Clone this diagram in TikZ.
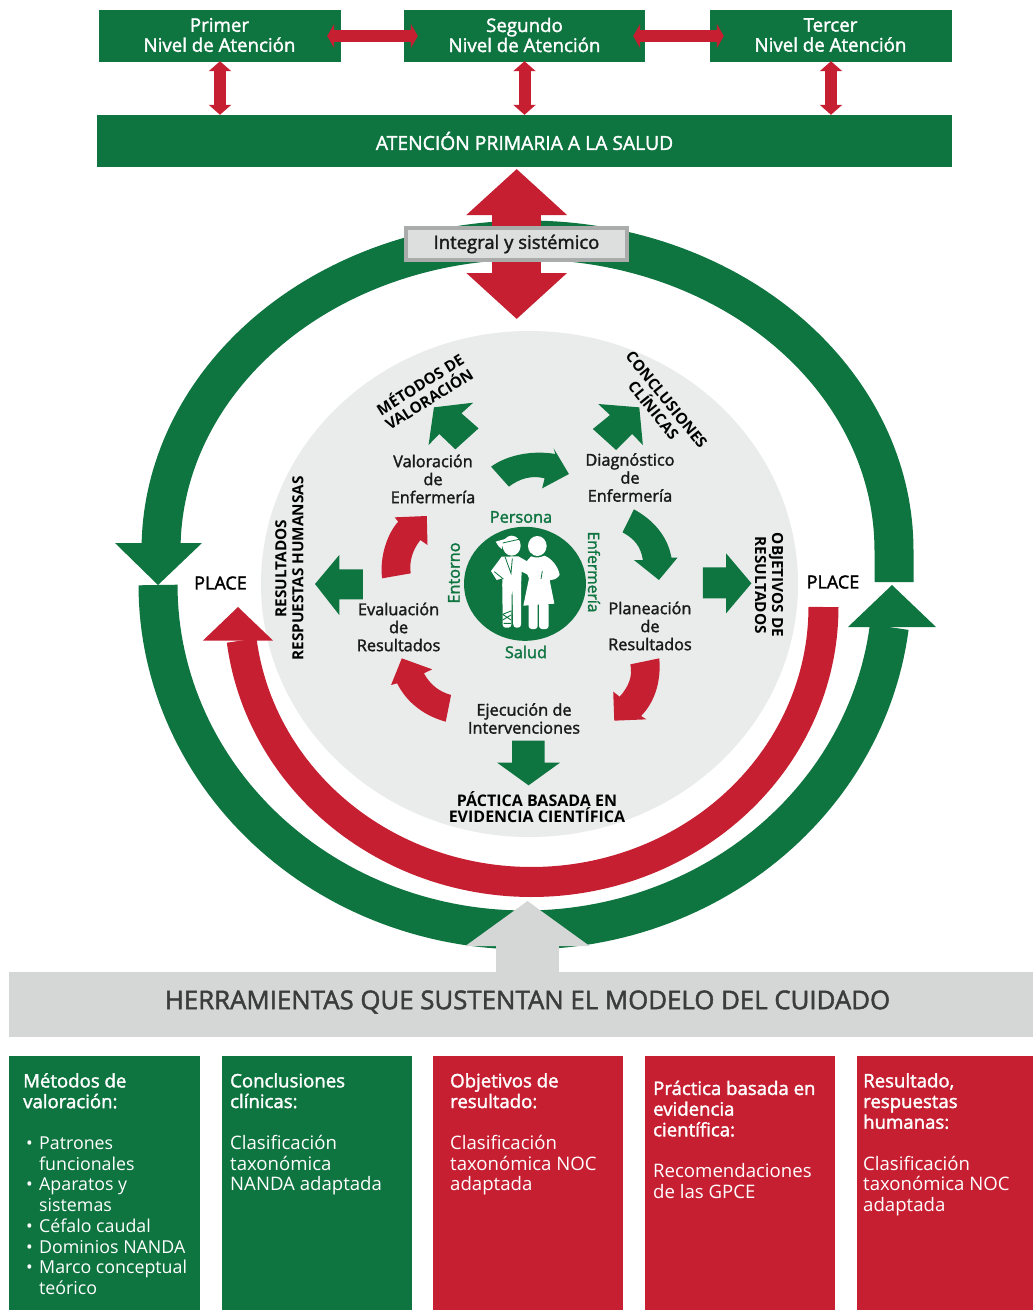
\documentclass[tikz,border=0pt]{standalone}
\usepackage{fontspec}
\usetikzlibrary{arrows.meta,calc}
\setmainfont{Open Sans}
\newfontfamily\medfont[FakeBold=1.8]{Open Sans}
\definecolor{vgreen}{HTML}{0E7440}
\definecolor{vred}{HTML}{C71F32}
\definecolor{vgrey}{HTML}{D5D6D6}
\definecolor{vdisc}{HTML}{EAEBEB}
\definecolor{vink}{HTML}{1A1A1A}
\tikzset{
  greenbox/.style={fill=vgreen,draw=none,text=white,inner sep=0pt,align=center,font=\medfont\fontsize{18.7}{20}\selectfont},
  colbox/.style={draw=none,minimum width=#1,inner sep=0pt,anchor=north west,minimum height=254pt},
  hdbl/.style={draw=vred,line width=12pt,{Triangle[width=24pt,length=7pt]}-{Triangle[width=24pt,length=7pt]}},
  vdbl/.style={draw=vred,line width=12pt,{Triangle[width=22pt,length=10pt]}-{Triangle[width=22pt,length=10pt]}},
  bigtip/.style={draw=vred,line width=49pt,-{Triangle[width=98pt,length=46pt]}},
  greytip/.style={draw=vgrey,line width=63pt,-{Triangle[width=122pt,length=45pt]}},
  coltext/.style={text=white,inner sep=0pt,anchor=north west,align=left,font=\fontsize{18.6}{20.7}\selectfont},
  step label/.style={text=vink,inner sep=0pt,align=center,font=\medfont\fontsize{16.3}{18}\selectfont},
  cap label/.style={text=black,inner sep=0pt,align=center,font=\bfseries\fontsize{15.3}{17}\selectfont},
  core label/.style={text=vgreen,inner sep=0pt,font=\medfont\fontsize{16.3}{17}\selectfont},
  zoomed/.style={shift={(250,330)},x=0.35714pt,y=-0.33333pt},
  figured/.style={shift={(455,515)},x=0.33333pt,y=-0.33333pt},
}
\newcommand{\bul}{\makebox[16pt][l]{\hspace{3pt}•}}
\newcommand{\ind}{\hspace*{16pt}}
\newcommand{\hd}[1]{{\medfont #1}}
\newcommand{\lst}{\fontsize{17.8}{20.7}\selectfont}
\begin{document}
\begin{tikzpicture}[x=1pt,y=-1pt]
\useasboundingbox (0,0) rectangle (1033,1310);
\fill[white] (0,0) rectangle (1033,1310);

% top boxes
\node[greenbox,minimum width=242pt,minimum height=52pt] (n1) at (220,36) {};
\node[greenbox,minimum width=241pt,minimum height=52pt] (n2) at (524.5,36) {};
\node[greenbox,minimum width=242pt,minimum height=52pt] (n3) at (831,36) {};
\node[greenbox,minimum width=855pt,minimum height=52pt,font=\medfont\fontsize{19.3}{20}\selectfont] (aps) at (524.5,141) {ATENCIÓN PRIMARIA A LA SALUD};
\draw[hdbl] ([xshift=-14pt]n1.east) -- ([xshift=14pt]n2.west);
\draw[hdbl] ([xshift=-12pt]n2.east) -- ([xshift=14pt]n3.west);
\node[greenbox,fill=none] (n1t) at (219.5,35) {Primer\\Nivel de Atención};
\node[greenbox,fill=none] (n2t) at (524.5,35) {Segundo\\Nivel de Atención};
\node[greenbox,fill=none] (n3t) at (830.5,35) {Tercer\\Nivel de Atención};
\draw[vdbl] ([yshift=1pt]n1.south) -- (n1.south |- aps.north);
\draw[vdbl] ([yshift=1pt]n2.south) -- (n2.south |- aps.north);
\draw[vdbl] ([yshift=1pt]n3.south) -- (n3.south |- aps.north);

% central disc
\fill[vdisc] (529.5,584) ellipse [x radius=268.5,y radius=253];

% green ring
\draw[vgreen,line width=39pt] plot[domain=180:360,samples=140] ({527.5+366.5*cos(\x)},{550+310*sin(\x)}) -- (894,582);
\fill[vgreen] (115,543) -- (202,543) -- (158,585) -- cycle;
\draw[vgreen,line width=39pt] plot[domain=7:180,samples=120] ({525+367*cos(\x)},{585+345*sin(\x)});
\fill[vgreen] (848,627) -- (936,627) -- (892,585) -- cycle;
% red ring
\draw[vred,line width=30pt] plot[domain=0:173,samples=120] ({531.5+292*cos(\x)},{607+275*sin(\x)});
\fill[vred] (203,640.5) -- (273,640.5) -- (238,607) -- cycle;

% integral box and its arrow
\coordinate (toptip) at (516.7,169);
\coordinate (bottip) at (516.7,319);
\coordinate (midpt) at (516.7,244);
\draw[bigtip] (midpt) -- (toptip);
\draw[bigtip] (midpt) -- (bottip);
\node[draw=vgrey!80!black,line width=4pt,fill=vgrey!80!white,text=vink,inner sep=0pt,minimum width=221pt,minimum height=32pt,font=\medfont\fontsize{18.5}{20}\selectfont] (integ) at (516.5,244) {Integral y sistémico};

% band and grey arrow
\node[fill=vgrey,inner sep=0pt,minimum width=1024pt,minimum height=65pt] (band) at (521,1004.5) {};
\coordinate (greytop) at (527.5,901);
\coordinate (greybase) at (527.5,973);
\draw[greytip] (greybase) -- (greytop);
\node[text=vink!85!white,inner sep=0pt,font=\medfont\fontsize{25.8}{28}\selectfont] (bandtext) at (527.5,1002) {HERRAMIENTAS QUE SUSTENTAN EL MODELO DEL CUIDADO};

% curved and block arrows inside the disc
\begin{scope}[zoomed]
\fill[vgreen] (515,232) -- (625,218) -- (592,250) -- (640,295) -- (575,358) -- (530,312) -- (500,345) -- cycle;
\fill[vgreen] (1090,232) -- (975,222) -- (1008,255) -- (960,297) -- (1025,360) -- (1070,312) -- (1100,345) -- cycle;
\fill[vgreen] (675,410) .. controls (720,375) and (790,360) .. (855,372) -- (850,355) -- (893,432) -- (818,475) -- (825,445) .. controls (790,435) and (755,445) .. (725,470) -- cycle;
\fill[vgreen] (1075,538) .. controls (1130,570) and (1170,620) .. (1180,683) -- (1197,683) -- (1145,750) -- (1075,690) -- (1100,690) .. controls (1095,650) and (1075,625) .. (1043,607) -- cycle;
\fill[vred] (1146,985) .. controls (1152,1060) and (1130,1120) .. (1095,1158) -- (1110,1168) -- (1020,1172) -- (1017,1085) -- (1035,1100) .. controls (1060,1070) and (1072,1040) .. (1065,1003) -- cycle;
\fill[vred] (548,1175) .. controls (480,1155) and (435,1110) .. (412,1060) -- (395,1065) -- (425,985) -- (510,1018) -- (487,1030) .. controls (505,1065) and (530,1085) .. (563,1095) -- cycle;
\fill[vred] (370,745) .. controls (362,680) and (385,610) .. (415,575) -- (405,562) -- (495,558) -- (497,645) -- (477,630) .. controls (455,660) and (445,695) .. (450,730) -- cycle;
\fill[vgreen] (182,762) -- (250,675) -- (250,718) -- (316,718) -- (316,808) -- (250,808) -- (250,855) -- cycle;
\fill[vgreen] (1268,712) -- (1333,712) -- (1333,670) -- (1404,760) -- (1333,850) -- (1333,805) -- (1268,805) -- cycle;
\fill[vgreen] (734,1232) -- (825,1232) -- (825,1298) -- (868,1298) -- (780,1366) -- (692,1298) -- (734,1298) -- cycle;
\end{scope}

% centre emblem
\fill[vgreen] (525,583.8) ellipse [x radius=61,y radius=57];
\begin{scope}[figured]
% nurse
\fill[white] (247,93) ellipse [x radius=28,y radius=30];
\fill[white] (228,124) .. controls (245,130) and (255,128) .. (268,122) .. controls (290,130) and (310,155) .. (314,180) .. controls (305,192) and (295,196) .. (284,196) -- (298,266) -- (205,272) -- (222,190) -- (205,150) -- cycle;
\fill[white,rounded corners=3pt] (221,262) -- (221,342) -- (248,342) -- (248,262) -- cycle;
\fill[white,rounded corners=3pt] (252,262) -- (252,342) -- (281,342) -- (281,262) -- cycle;
% patient
\fill[white] (170,92) ellipse [x radius=27,y radius=30];
\draw[vgreen,line width=2pt] (140,146) -- (232,118);
\fill[white] (140,125) -- (190,124) -- (262,165) -- (266,192) -- (255,197) -- (200,170) -- (198,215) -- (142,215) -- (142,190) -- (125,195) -- (108,168) -- cycle;
\fill[white,rounded corners=3pt] (142,200) -- (143,338) -- (169,338) -- (170,230) -- (198,200) -- cycle;
\fill[white,rounded corners=3pt] (172,220) -- (175,338) -- (198,338) -- (198,200) -- cycle;
\fill[white] (122,80) -- (150,72) -- (145,88) -- (140,102) -- (131,94) -- cycle;
\draw[vgreen,line width=0.8pt] (143,84) -- (196,72) (150,125) -- (168,175) -- (172,130) (262,168) -- (258,192) (118,170) -- (145,192);
\draw[vgreen,line width=0.9pt] (143,298) -- (168,288) (143,315) -- (168,300) (143,298) -- (168,315) (146,325) -- (168,325);
\end{scope}

% centre labels
\node[core label] (lper) at (521,517) {Persona};
\node[core label] (lsal) at (526,652) {Salud};
\node[core label,rotate=90] (lent) at (454,573) {Entorno};
\node[core label,rotate=-90,font=\medfont\fontsize{15.6}{17}\selectfont] (lenf) at (594,572) {Enfermería};
\node[step label] (s1) at (433,479) {Valoración\\de\\Enfermería};
\node[step label] (s2) at (630,477.5) {Diagnóstico\\de\\Enfermería};
\node[step label] (s3) at (650,626) {Planeación\\de\\Resultados};
\node[step label] (s4) at (524,718.5) {Ejecución de\\Intervenciones};
\node[step label] (s5) at (398.6,627) {Evaluación\\de\\Resultados};
\node[cap label,rotate=32] (c1) at (424,391) {MÉTODOS DE\\VALORACIÓN};
\node[cap label,rotate=-51] (c2) at (660,405) {CONCLUSIONES\\CLÍNICAS};
\node[cap label,rotate=90] (c3) at (289.5,568.5) {RESULTADOS\\RESPUESTAS HUMANSAS};
\node[cap label,rotate=-90] (c4) at (769,585) {OBJETIVOS DE\\RESULTADOS};
\node[cap label,font=\bfseries\fontsize{16}{16.5}\selectfont] (c5) at (537,807) {PÁCTICA BASADA EN\\EVIDENCIA CIENTÍFICA};
\node[step label,font=\medfont\fontsize{18}{18}\selectfont,text=black] (pl) at (220.5,583) {PLACE};
\node[step label,font=\medfont\fontsize{18}{18}\selectfont,text=black] (pr) at (833,582) {PLACE};

% bottom columns
\node[colbox=191pt,fill=vgreen] (b1) at (9,1056) {};
\node[colbox=190pt,fill=vgreen] (b2) at (222,1056) {};
\node[colbox=190pt,fill=vred] (b3) at (433,1056) {};
\node[colbox=190pt,fill=vred] (b4) at (645,1056) {};
\node[colbox=176pt,fill=vred] (b5) at (857,1056) {};
\node[coltext] (t1) at (23,1073) {\hd{Métodos de}\\\hd{valoración:}\\[20.7pt]
\lst\bul Patrones\\\lst\ind funcionales\\\lst\bul Aparatos y\\\lst\ind sistemas\\\lst\bul Céfalo caudal\\\lst\bul Dominios NANDA\\\lst\bul Marco conceptual\\\lst\ind teórico};
\node[coltext] (t2) at (230,1073) {\hd{Conclusiones}\\\hd{clínicas:}\\[20.7pt]Clasificación\\taxonómica\\NANDA adaptada};
\node[coltext] (t3) at (450,1073) {\hd{Objetivos de}\\\hd{resultado:}\\[20.7pt]Clasificación\\taxonómica NOC\\adaptada};
\node[coltext] (t4) at (653,1080.5) {\hd{Práctica basada en}\\\hd{evidencia}\\\hd{científica:}\\[20.7pt]Recomendaciones\\de las GPCE};
\node[coltext] (t5) at (863,1073) {\hd{Resultado,}\\\hd{respuestas}\\\hd{humanas:}\\[20.7pt]Clasificación\\taxonómica NOC\\adaptada};
\end{tikzpicture}
\end{document}
